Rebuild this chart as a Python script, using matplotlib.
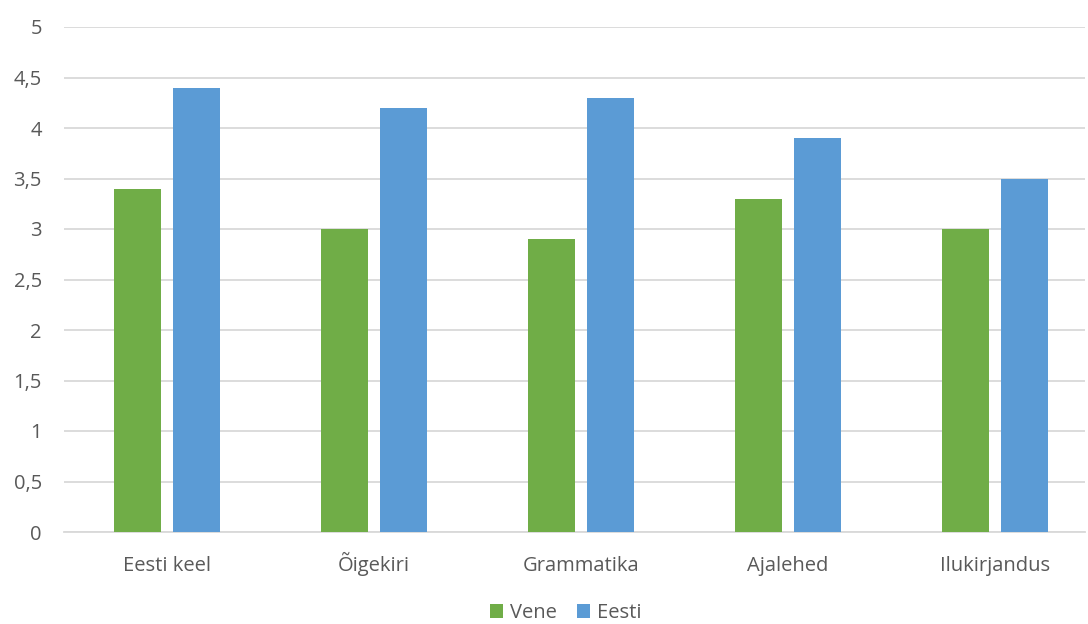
import numpy as np
import matplotlib.pyplot as plt

# grupid ja keskmised hinded
categories = ["Eesti keel", "Õigekiri", "Grammatika", "Ajalehed", "Ilukirjandus"]
vene = [3.4, 3.0, 2.9, 3.3, 3.0]
eesti = [4.4, 4.2, 4.3, 3.9, 3.5]
yticks = [0, 0.5, 1, 1.5, 2, 2.5, 3, 3.5, 4, 4.5, 5]

plt.rcParams['font.family'] = ['Open Sans', 'DejaVu Sans']

fig = plt.figure(figsize=(10.88, 6.24), dpi=100)
ax = fig.add_axes([64 / 1088, 1 - 532 / 624, (1085 - 64) / 1088, (532 - 27) / 624])

x = np.arange(len(categories))
w = 0.227
ax.bar(x - 0.143, vene, w, color='#70AD47', label='Vene', zorder=3)
ax.bar(x + 0.143, eesti, w, color='#5B9BD5', label='Eesti', zorder=3)

ax.set_xlim(-0.498, 4.435)
ax.set_ylim(0, 5)
ax.set_yticks(yticks)
ax.set_yticklabels([str(t).replace('.', ',').removesuffix(',0') for t in yticks])
ax.set_xticks(x)
ax.set_xticklabels(categories, va='baseline')
ax.grid(axis='y', color='#D9D9D9', linewidth=1.3, zorder=0)
for s in ['top', 'right', 'left']:
    ax.spines[s].set_visible(False)
ax.spines['bottom'].set_color('#D9D9D9')
ax.spines['bottom'].set_linewidth(1.3)
ax.tick_params(length=0, labelsize=14.5, labelcolor='#595959')
ax.tick_params(axis='x', pad=28)
ax.tick_params(axis='y', pad=16)

fig.legend(loc='center', bbox_to_anchor=(0.52, 1 - 613 / 624), ncol=2, frameon=False,
           fontsize=14.5, labelcolor='#595959', handlelength=0.65, handleheight=0.65,
           handletextpad=0.35, columnspacing=1.0)

fig.savefig('out.png', dpi=100)
